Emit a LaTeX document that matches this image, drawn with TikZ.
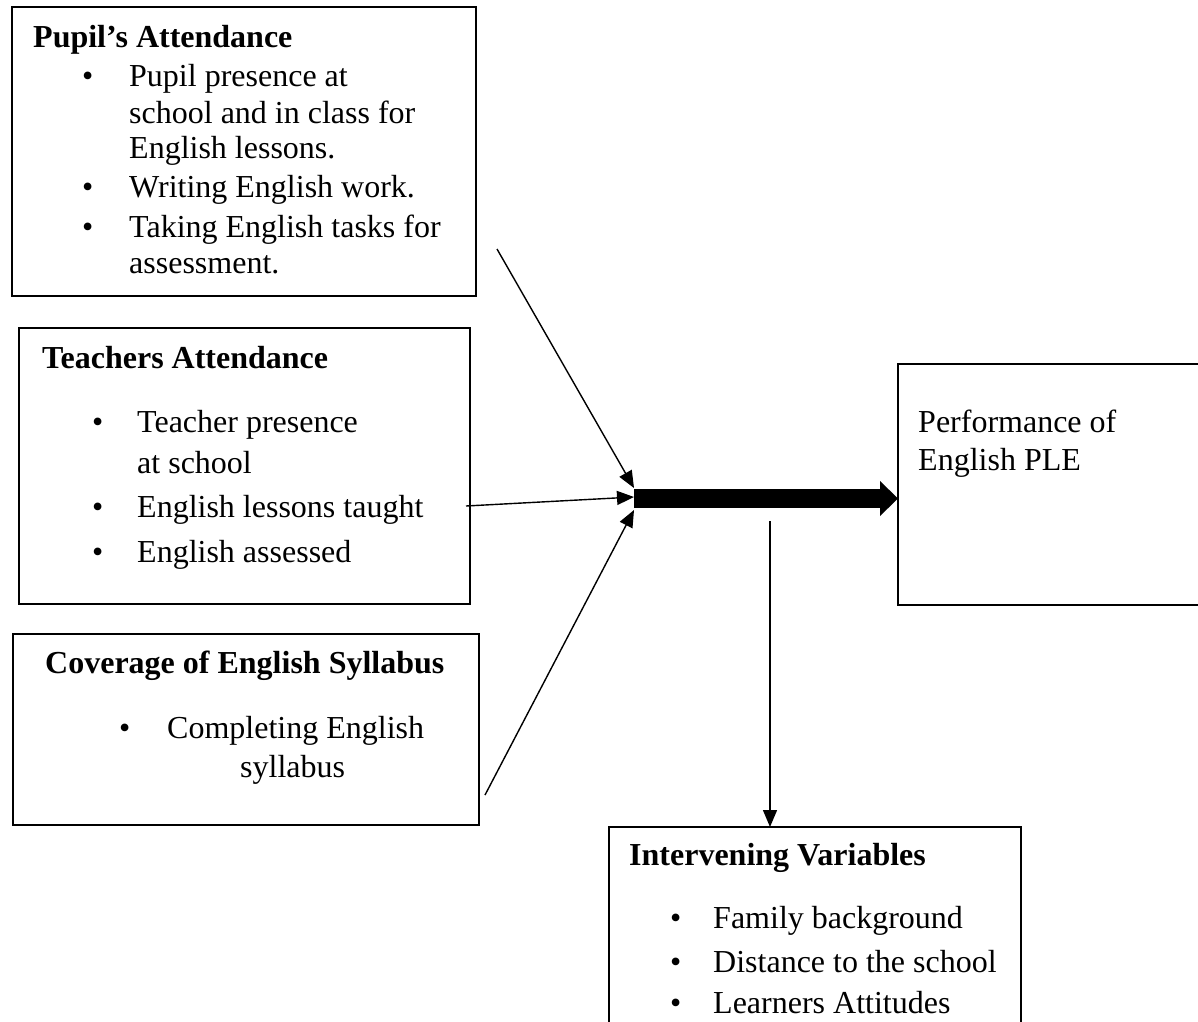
\documentclass[tikz,border=0pt]{standalone}
\usepackage{fontspec}
\setmainfont{Liberation Serif}
\usetikzlibrary{arrows.meta}
\begin{document}
\begin{tikzpicture}[x=1pt,y=-1pt,
  box/.style={draw,line width=2pt,rectangle,inner sep=0pt,outer sep=0pt,anchor=north west},
  txt/.style={anchor=base west,inner sep=0pt,font=\fontsize{32}{37}\selectfont},
  hd/.style={anchor=base west,inner sep=0pt,font=\fontsize{32}{37}\selectfont\bfseries},
  thinarrow/.style={line width=1.4pt,-{Triangle[length=17pt,width=14pt]}},
  bigarrow/.style={line width=19pt,-{Triangle[length=18pt,width=34pt]}}]
\useasboundingbox (0,0) rectangle (1198,1021);

% boxes
\node[box,minimum width=464pt,minimum height=289pt] (b1) at (12,7) {};
\node[box,minimum width=451pt,minimum height=276pt] (b2) at (19,328) {};
\node[box,minimum width=466pt,minimum height=191pt] (b3) at (13,634) {};
\node[box,minimum width=330pt,minimum height=241pt] (b4) at (898,364) {};
\node[box,minimum width=412pt,minimum height=230pt] (b5) at (609,827) {};

% box 1 text
\node[hd] (h1) at (33,47) {Pupil’s Attendance};
\node[txt] (p1d) at (82,86) {•};
\node[txt] (p1a) at (129,86) {Pupil presence at};
\node[txt] (p1b) at (129,123) {school and in class for};
\node[txt] (p1c) at (129,158) {English lessons.};
\node[txt] (p2d) at (82,197) {•};
\node[txt] (p2a) at (129,197) {Writing English work.};
\node[txt] (p3d) at (82,237) {•};
\node[txt] (p3a) at (129,237) {Taking English tasks for};
\node[txt] (p3b) at (129,273) {assessment.};

% box 2 text
\node[hd] (h2) at (42,368) {Teachers Attendance};
\node[txt] (t1d) at (92,432) {•};
\node[txt] (t1a) at (137,432) {Teacher presence};
\node[txt] (t1b) at (137,473) {at school};
\node[txt] (t2d) at (92,517) {•};
\node[txt] (t2a) at (137,517) {English lessons taught};
\node[txt] (t3d) at (92,562) {•};
\node[txt] (t3a) at (137,562) {English assessed};

% box 3 text
\node[hd] (h3) at (45,673) {Coverage of English Syllabus};
\node[txt] (c1d) at (119,738) {•};
\node[txt] (c1a) at (167,738) {Completing English};
\node[txt] (c1b) at (240,777) {syllabus};

% box 4 text
\node[txt] (r1) at (918,432) {Performance of};
\node[txt] (r2) at (918,470) {English PLE};

% box 5 text
\node[hd] (h5) at (629,865) {Intervening Variables};
\node[txt] (i1d) at (670,928) {•};
\node[txt] (i1a) at (713,928) {Family background};
\node[txt] (i2d) at (670,972) {•};
\node[txt] (i2a) at (713,972) {Distance to the school};
\node[txt] (i3d) at (670,1013) {•};
\node[txt] (i3a) at (713,1013) {Learners Attitudes};

% connectors
\coordinate (hub) at (634,498.5);
\coordinate (ta) at (634,488);
\coordinate (tb) at (634,497);
\coordinate (tc) at (634,510);
\coordinate (sa) at (497,249);
\coordinate (sb) at (466,506);
\coordinate (sc) at (485,795);
\coordinate (sd) at (770,521);

\draw[bigarrow] (hub) -- (hub -| b4.west);
\draw[thinarrow] (sa) -- (ta);
\draw[thinarrow] (sb) -- (tb);
\draw[thinarrow] (sc) -- (tc);
\draw[thinarrow] (sd) -- (sd |- b5.north);
\end{tikzpicture}
\end{document}
